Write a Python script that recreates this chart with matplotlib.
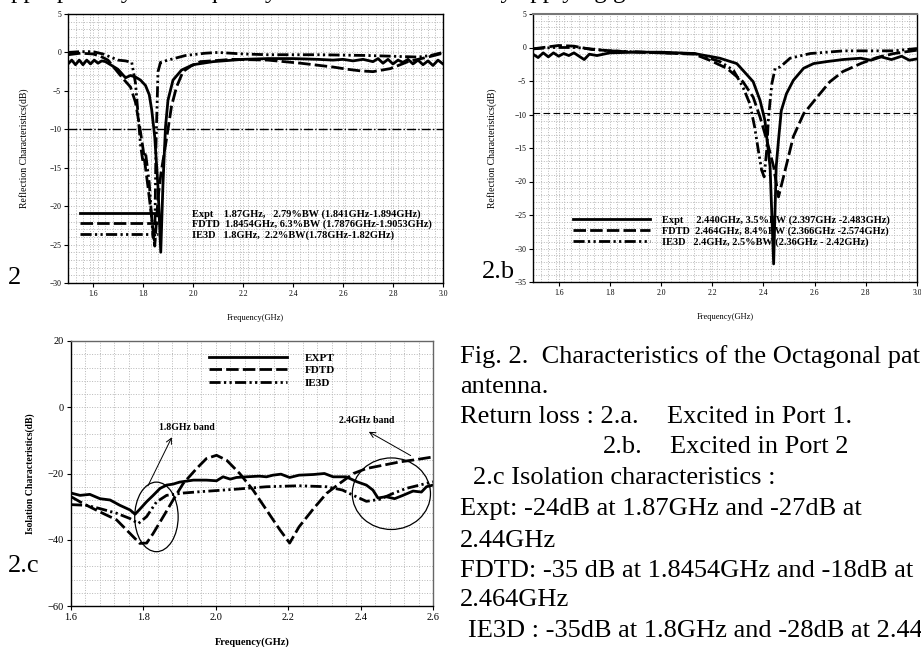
import matplotlib.pyplot as plt
from matplotlib.patches import Ellipse
from matplotlib.ticker import MultipleLocator

plt.rcParams['font.family'] = ['Liberation Serif', 'DejaVu Serif']

# ---- 2.a  return loss, port 1 ----
a_expt_f = [1.50, 1.515, 1.53, 1.545, 1.56, 1.575, 1.59, 1.605, 1.62, 1.635, 1.65, 1.67, 1.70, 1.73,
            1.75, 1.77, 1.79, 1.81, 1.825, 1.835, 1.847, 1.86, 1.871, 1.88, 1.89, 1.90, 1.92, 1.954,
            2.0, 2.08, 2.2, 2.3, 2.4, 2.5, 2.56, 2.6, 2.64, 2.68, 2.72, 2.74, 2.76, 2.78, 2.80, 2.82,
            2.84, 2.86, 2.88, 2.90, 2.92, 2.94, 2.96, 2.98, 3.0]
a_expt_db = [-1.5, -1.0, -1.6, -1.0, -1.6, -1.0, -1.5, -1.0, -1.4, -1.1, -1.2, -1.6, -2.2, -3.3,
             -3.0, -3.2, -3.6, -4.3, -5.5, -7.5, -11.0, -17.5, -26.0, -17.0, -9.7, -6.2, -3.6, -2.3,
             -1.6, -1.2, -0.9, -0.8, -0.8, -0.9, -1.0, -0.9, -1.1, -0.9, -1.2, -0.8, -1.4, -0.9,
             -1.5, -1.0, -1.3, -0.9, -1.5, -1.0, -1.6, -1.1, -1.7, -1.0, -1.5]
a_fdtd_f = [1.50, 1.55, 1.60, 1.63, 1.66, 1.68, 1.70, 1.72, 1.75, 1.77, 1.787, 1.80, 1.82, 1.834,
            1.847, 1.86, 1.872, 1.887, 1.90, 1.914, 1.934, 1.96, 1.99, 2.03, 2.16, 2.30, 2.43, 2.56,
            2.62, 2.67, 2.72, 2.79, 2.86, 2.94, 3.0]
a_fdtd_db = [-0.3, -0.1, -0.2, -0.5, -1.0, -1.8, -2.6, -3.4, -4.5, -6.5, -9.7, -12.5, -17.5, -21.3,
             -25.2, -19.0, -15.7, -12.7, -10.0, -7.0, -4.5, -2.5, -1.8, -1.2, -0.9, -1.0, -1.4, -1.9,
             -2.2, -2.4, -2.5, -2.1, -1.2, -0.6, -0.1]
a_ie3d_f = [1.50, 1.55, 1.60, 1.64, 1.67, 1.70, 1.73, 1.755, 1.77, 1.78, 1.79, 1.80, 1.81, 1.825,
            1.84, 1.847, 1.852, 1.86, 1.87, 1.90, 1.97, 2.05, 2.1, 2.2, 2.3, 2.5, 2.7, 2.8, 2.9,
            2.95, 3.0]
a_ie3d_db = [0.0, 0.1, 0.1, -0.2, -0.6, -1.0, -1.1, -1.3, -4.0, -8.0, -12.0, -14.3, -13.0, -17.0,
             -24.0, -24.5, -12.0, -2.5, -1.3, -1.0, -0.4, -0.1, 0.0, -0.2, -0.3, -0.3, -0.4, -0.5,
             -0.6, -0.4, 0.0]
a_labels = ['Expt    1.87GHz,   2.79%BW (1.841GHz-1.894GHz)',
            'FDTD  1.8454GHz, 6.3%BW (1.7876GHz-1.9053GHz)',
            'IE3D   1.8GHz,  2.2%BW(1.78GHz-1.82GHz)']

# ---- 2.b  return loss, port 2 ----
b_expt_f = [1.50, 1.52, 1.54, 1.56, 1.58, 1.60, 1.62, 1.64, 1.66, 1.68, 1.70, 1.72, 1.75, 1.80,
            1.90, 2.00, 2.13, 2.23, 2.296, 2.32, 2.36, 2.387, 2.406, 2.426, 2.44, 2.45, 2.459,
            2.47, 2.49, 2.517, 2.557, 2.596, 2.648, 2.71, 2.78, 2.82, 2.86, 2.90, 2.94, 2.97, 3.0]
b_expt_db = [-1.0, -1.5, -0.8, -1.4, -0.8, -1.3, -0.9, -1.2, -0.8, -1.3, -1.8, -1.0, -1.2, -0.8,
             -0.7, -0.7, -0.9, -1.6, -2.4, -3.4, -5.1, -7.9, -10.9, -17.8, -32.3, -17.8, -13.8,
             -9.4, -6.9, -4.9, -3.1, -2.4, -2.1, -1.8, -1.6, -1.9, -1.4, -1.8, -1.3, -1.9, -1.7]
b_fdtd_f = [1.50, 1.60, 1.66, 1.73, 1.85, 2.00, 2.13, 2.19, 2.257, 2.32, 2.36, 2.387, 2.413, 2.44,
            2.459, 2.485, 2.517, 2.557, 2.61, 2.66, 2.71, 2.78, 2.843, 2.91, 3.0]
b_fdtd_db = [-0.2, 0.3, 0.2, -0.3, -0.6, -0.8, -1.0, -1.9, -3.1, -5.1, -7.4, -10.4, -13.8, -17.8,
             -22.3, -18.3, -13.3, -9.9, -7.4, -5.1, -3.6, -2.4, -1.5, -0.9, -0.4]
b_ie3d_f = [1.50, 1.58, 1.67, 1.80, 2.00, 2.13, 2.23, 2.283, 2.32, 2.347, 2.366, 2.38, 2.393,
            2.403, 2.413, 2.42, 2.433, 2.446, 2.466, 2.504, 2.583, 2.713, 2.91, 3.0]
b_ie3d_db = [-0.2, 0.0, 0.0, -0.5, -0.8, -0.9, -2.1, -3.4, -5.9, -8.4, -11.9, -15.3, -18.3,
             -19.3, -15.3, -10.4, -5.4, -3.1, -2.9, -1.6, -0.9, -0.5, -0.5, -0.15]
b_labels = ['Expt     2.440GHz, 3.5%BW (2.397GHz -2.483GHz)',
            'FDTD  2.464GHz, 8.4%BW (2.366GHz -2.574GHz)',
            'IE3D   2.4GHz, 2.5%BW (2.36GHz - 2.42GHz)']

# ---- 2.c  isolation ----
c_expt_f = [1.6, 1.625, 1.652, 1.68, 1.708, 1.735, 1.763, 1.777, 1.79, 1.809, 1.827, 1.846, 1.864,
            1.882, 1.9, 1.938, 1.974, 2.002, 2.02, 2.04, 2.057, 2.085, 2.12, 2.14, 2.158, 2.18,
            2.204, 2.23, 2.27, 2.3, 2.324, 2.36, 2.39, 2.416, 2.434, 2.448, 2.47, 2.494, 2.517,
            2.545, 2.568, 2.582, 2.6]
c_expt_db = [-25.9, -26.6, -26.3, -27.6, -28.0, -29.6, -31.0, -32.3, -30.8, -28.5, -26.6, -24.5,
             -23.5, -23.2, -22.6, -22.0, -22.0, -22.2, -21.0, -21.7, -21.2, -21.0, -20.8, -21.0,
             -20.5, -20.2, -21.2, -20.5, -20.3, -20.0, -21.0, -21.0, -22.5, -23.5, -25.0, -27.4,
             -27.0, -27.6, -26.6, -25.3, -25.6, -24.0, -23.5]
c_fdtd_f = [1.6, 1.634, 1.68, 1.726, 1.763, 1.79, 1.809, 1.827, 1.855, 1.882, 1.91, 1.947, 1.974,
            2.002, 2.03, 2.066, 2.103, 2.14, 2.177, 2.204, 2.23, 2.27, 2.306, 2.342, 2.38, 2.416,
            2.462, 2.508, 2.554, 2.6]
c_fdtd_db = [-27.0, -29.1, -31.6, -34.0, -38.1, -41.1, -41.0, -38.1, -33.0, -28.0, -23.0, -18.5,
             -15.5, -14.5, -16.0, -20.0, -25.0, -31.0, -37.0, -41.0, -36.1, -30.6, -26.0, -23.0,
             -20.0, -18.5, -17.5, -16.5, -15.8, -15.0]
c_ie3d_f = [1.6, 1.643, 1.68, 1.726, 1.763, 1.786, 1.809, 1.836, 1.864, 1.91, 1.956, 2.048, 2.14,
            2.23, 2.306, 2.35, 2.38, 2.416, 2.453, 2.49, 2.526, 2.563, 2.6]
c_ie3d_db = [-29.4, -29.6, -30.6, -32.0, -33.6, -35.1, -33.0, -28.6, -26.6, -25.9, -25.5, -24.8,
             -24.0, -23.7, -24.0, -25.0, -26.6, -28.4, -27.8, -26.0, -24.5, -23.5, -22.5]
c_labels = ['EXPT', 'FDTD', 'IE3D']

W, H = 921, 647
fig = plt.figure(figsize=(W / 100, H / 100), dpi=100)


def box(left, top, right, bottom):
    return [left / W, 1 - bottom / H, (right - left) / W, (bottom - top) / H]


dash = (0, (4.5, 1.5))
dashdot = (0, (4, 1.2, 0.8, 1.2, 0.8, 1.2))
styles = ['-', dash, dashdot]
grid_kw = dict(color='#b8b8b8', linestyle=':', linewidth=0.7)


def style_axes(ax, xmaj, xmin, ymaj, ymin, tick_size):
    ax.xaxis.set_major_locator(MultipleLocator(xmaj))
    ax.xaxis.set_minor_locator(MultipleLocator(xmin))
    ax.yaxis.set_major_locator(MultipleLocator(ymaj))
    ax.yaxis.set_minor_locator(MultipleLocator(ymin))
    ax.grid(True, which='both', **grid_kw)
    ax.set_axisbelow(True)
    ax.tick_params(which='major', direction='out', length=3, labelsize=tick_size,
                   top=False, right=False, pad=2)
    ax.tick_params(which='minor', length=0)
    for s in ax.spines.values():
        s.set_color('black')
        s.set_linewidth(1.0)


# ---------- panel a ----------
ax1 = fig.add_axes(box(68, 14, 443, 283))
for f, d, ls, lab in zip([a_expt_f, a_fdtd_f, a_ie3d_f], [a_expt_db, a_fdtd_db, a_ie3d_db],
                         styles, a_labels):
    ax1.plot(f, d, color='black', lw=2.0, linestyle=ls, label=lab)
ax1.axhline(-10, color='black', lw=1.0, linestyle='-.')
ax1.set_xlim(1.5, 3.0)
ax1.set_ylim(-30, 5)
style_axes(ax1, 0.2, 0.03, 5, 1, 5.5)
ax1.set_xticks([1.6, 1.8, 2.0, 2.2, 2.4, 2.6, 2.8, 3.0])
ax1.set_xticklabels(['1.6', '1.8', '2.0', '2.2', '2.4', '2.6', '2.8', '3.0'])
ax1.set_ylabel('Reflection Characteristics(dB)', fontsize=7)
ax1.yaxis.set_label_coords(-0.104, 0.5)
ax1.set_xlabel('Frequency(GHz)', fontsize=6)
ax1.xaxis.set_label_coords(0.5, -0.115)
ax1.legend(loc='upper left', bbox_to_anchor=(0.032, 0.275), frameon=False, handlelength=7.5,
           handletextpad=3.3, labelspacing=0.1, borderpad=0, borderaxespad=0,
           prop={'size': 7.5, 'weight': 'bold'})

# ---------- panel b ----------
ax2 = fig.add_axes(box(533, 14, 917, 282))
for f, d, ls, lab in zip([b_expt_f, b_fdtd_f, b_ie3d_f], [b_expt_db, b_fdtd_db, b_ie3d_db],
                         styles, b_labels):
    ax2.plot(f, d, color='black', lw=2.0, linestyle=ls, label=lab)
ax2.axhline(-9.8, color='black', lw=0.8, linestyle=(0, (6, 3)))
ax2.set_xlim(1.5, 3.0)
ax2.set_ylim(-35, 5)
style_axes(ax2, 0.2, 0.03, 5, 1, 5.5)
ax2.spines['top'].set_color('#777777')
ax2.spines['top'].set_linewidth(1.5)
ax2.set_xticks([1.6, 1.8, 2.0, 2.2, 2.4, 2.6, 2.8, 3.0])
ax2.set_xticklabels(['1.6', '1.8', '2.0', '2.2', '2.4', '2.6', '2.8', '3.0'])
ax2.set_ylabel('Reflection Characteristics(dB)', fontsize=7)
ax2.yaxis.set_label_coords(-0.094, 0.5)
ax2.set_xlabel('Frequency(GHz)', fontsize=6)
ax2.xaxis.set_label_coords(0.5, -0.116)
ax2.legend(loc='upper left', bbox_to_anchor=(0.104, 0.25), frameon=False, handlelength=7.4,
           handletextpad=1.15, labelspacing=0.15, borderpad=0, borderaxespad=0,
           prop={'size': 7.5, 'weight': 'bold'})

# ---------- panel c ----------
ax3 = fig.add_axes(box(71, 341, 433, 606))
for f, d, ls, lab in zip([c_expt_f, c_fdtd_f, c_ie3d_f], [c_expt_db, c_fdtd_db, c_ie3d_db],
                         styles, c_labels):
    ax3.plot(f, d, color='black', lw=2.0, linestyle=ls, label=lab)
ax3.set_xlim(1.6, 2.6)
ax3.set_ylim(-60, 20)
style_axes(ax3, 0.2, 0.04, 20, 4, 7.5)
for s in ['top', 'right']:
    ax3.spines[s].set_color('#666666')
ax3.set_xticks([1.6, 1.8, 2.0, 2.2, 2.4, 2.6])
ax3.set_xticklabels(['1.6', '1.8', '2.0', '2.2', '2.4', '2.6'])
ax3.set_ylabel('Isolation Characteristics(dB)', fontsize=7, fontweight='bold')
ax3.yaxis.set_label_coords(-0.1, 0.5)
ax3.set_xlabel('Frequency(GHz)', fontsize=7.5, fontweight='bold')
ax3.xaxis.set_label_coords(0.5, -0.117)
ax3.legend(loc='upper left', bbox_to_anchor=(0.381, 0.955), frameon=False, handlelength=7.0,
           handletextpad=1.6, labelspacing=0.25, borderpad=0, borderaxespad=0,
           prop={'size': 8, 'weight': 'bold'})
ax3.add_patch(Ellipse((1.836, -33.1), 0.12, 21, fill=False, edgecolor='black', lw=0.9))
ax3.add_patch(Ellipse((2.485, -26.1), 0.216, 21.6, fill=False, edgecolor='black', lw=0.9))
ax3.annotate('', xy=(1.882, -8.3), xytext=(1.809, -24.5),
             arrowprops=dict(arrowstyle='->', color='black', lw=0.7))
ax3.annotate('', xy=(2.416, -7.0), xytext=(2.545, -15.0),
             arrowprops=dict(arrowstyle='->', color='black', lw=0.7))
ax3.text(1.919, -6.2, '1.8GHz band', fontsize=7, fontweight='bold', ha='center', va='center')
ax3.text(2.416, -3.9, '2.4GHz band', fontsize=7, fontweight='bold', ha='center', va='center')

# ---------- surrounding page text ----------
def ptext(x, y, s, size=19):
    fig.text(x / W, 1 - y / H, s, fontsize=size, va='baseline', ha='left')


ptext(0, -2, 'appropriately       frequency', 18)
ptext(488, -2, 'by applying g', 18)
ptext(8, 284, '2')
ptext(482, 278, '2.b')
ptext(8, 572, '2.c')

ptext(460, 363, 'Fig. 2.  Characteristics of the Octagonal patch')
ptext(460, 393, 'antenna.')
ptext(460, 423, 'Return loss : 2.a.')
ptext(667, 423, 'Excited in Port 1.')
ptext(603, 453, '2.b.')
ptext(670, 453, 'Excited in Port 2')
ptext(473, 484, '2.c Isolation characteristics :')
ptext(460, 515, 'Expt: -24dB at 1.87GHz and -27dB at')
ptext(460, 547, '2.44GHz')
ptext(460, 577, 'FDTD: -35 dB at 1.8454GHz and -18dB at')
ptext(460, 606, '2.464GHz')
ptext(468, 637, 'IE3D : -35dB at 1.8GHz and -28dB at 2.44GHz')

fig.savefig('out.png', dpi=100)
